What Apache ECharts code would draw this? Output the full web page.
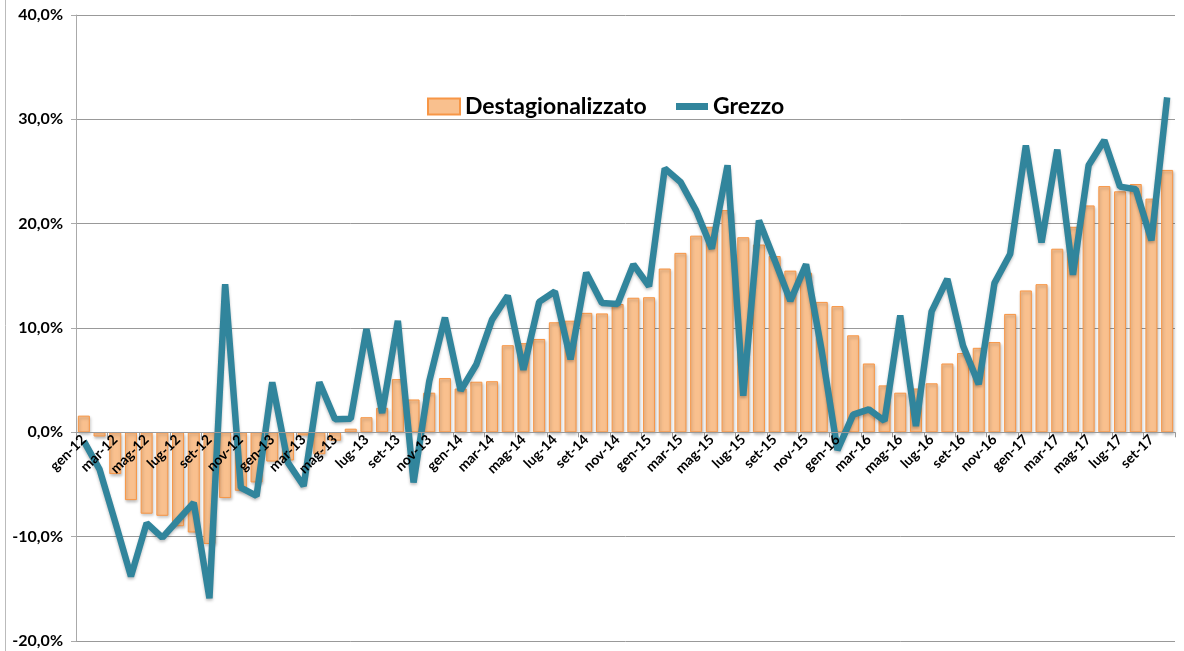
<!DOCTYPE html>
<html>
<head>
<meta charset="utf-8">
<script src="https://cdn.jsdelivr.net/npm/echarts@6/dist/echarts.min.js"></script>
<style>
  html, body { margin: 0; padding: 0; background: #fff; }
  #chart { width: 1184px; height: 651px; }
</style>
</head>
<body>
<div id="chart"></div>
<script>
// mesi da gen-12 a ott-17
var mesi = [
    'gen-12', 'feb-12', 'mar-12', 'apr-12', 'mag-12', 'giu-12', 'lug-12', 'ago-12', 'set-12', 'ott-12', 'nov-12', 'dic-12',
    'gen-13', 'feb-13', 'mar-13', 'apr-13', 'mag-13', 'giu-13', 'lug-13', 'ago-13', 'set-13', 'ott-13', 'nov-13', 'dic-13',
    'gen-14', 'feb-14', 'mar-14', 'apr-14', 'mag-14', 'giu-14', 'lug-14', 'ago-14', 'set-14', 'ott-14', 'nov-14', 'dic-14',
    'gen-15', 'feb-15', 'mar-15', 'apr-15', 'mag-15', 'giu-15', 'lug-15', 'ago-15', 'set-15', 'ott-15', 'nov-15', 'dic-15',
    'gen-16', 'feb-16', 'mar-16', 'apr-16', 'mag-16', 'giu-16', 'lug-16', 'ago-16', 'set-16', 'ott-16', 'nov-16', 'dic-16',
    'gen-17', 'feb-17', 'mar-17', 'apr-17', 'mag-17', 'giu-17', 'lug-17', 'ago-17', 'set-17', 'ott-17'
];

var destagionalizzato = [
    1.6, -0.4, -4.0, -6.5, -7.8, -8.0, -9.0, -9.6, -10.7, -6.3, -5.6, -4.8,
    -2.8, -2.7, -0.3, -2.1, -0.8, 0.35, 1.45, 2.35, 5.1, 3.15, 3.8, 5.2,
    4.2, 4.85, 4.9, 8.35, 8.55, 8.95, 10.55, 10.7, 11.45, 11.4, 12.3, 12.9,
    12.95, 15.7, 17.2, 18.85, 19.7, 21.3, 18.7, 18.0, 16.9, 15.5, 15.3, 12.5,
    12.1, 9.3, 6.6, 4.5, 3.8, 4.2, 4.7, 6.6, 7.6, 8.1, 8.65, 11.35,
    13.6, 14.2, 17.6, 19.7, 21.75, 23.6, 23.1, 23.8, 22.4, 25.15
];

var grezzo = [
    -0.85, -3.55, -8.6, -13.8, -8.7, -10.1, -8.4, -6.75, -15.9, 14.2, -5.3, -6.1,
    4.8, -2.9, -5.15, 4.8, 1.25, 1.3, 9.9, 1.85, 10.7, -4.8, 4.9, 11.0,
    4.0, 6.5, 10.8, 13.1, 6.0, 12.5, 13.5, 7.0, 15.3, 12.4, 12.3, 16.1,
    14.0, 25.3, 24.0, 21.25, 17.6, 25.6, 3.5, 20.3, 16.5, 12.6, 16.1, 7.8,
    -1.7, 1.7, 2.2, 1.1, 11.2, 0.6, 11.6, 14.7, 8.3, 4.6, 14.3, 17.1,
    27.5, 18.2, 27.1, 15.1, 25.6, 28.0, 23.55, 23.3, 18.4, 32.1
];

var FONT = 'Lato';
var legendText = {fontFamily: FONT, fontSize: 23, fontWeight: 'bold', color: '#000'};

var chart = echarts.init(document.getElementById('chart'));
var option = {
    backgroundColor: '#fff',
    animation: false,
    textStyle: {fontFamily: FONT},
    grid: {left: 76, right: 9, top: 15, bottom: 10, containLabel: false, outerBoundsMode: 'none'},
    legend: [
        {
            left: 422,
            top: 90,
            itemWidth: 32,
            itemHeight: 16,
            textStyle: legendText,
            data: [{name: 'Destagionalizzato', icon: 'rect'}]
        },
        {
            left: 671,
            top: 90,
            itemWidth: 32,
            itemHeight: 7,
            textStyle: legendText,
            data: [{name: 'Grezzo', icon: 'rect'}]
        }
    ],
    xAxis: [
        {
            type: 'category',
            data: mesi,
            z: 10,
            // asse spostato sullo zero (-20..40 => zero a 1/3 dal basso)
            axisLine: {onZero: false, lineStyle: {color: '#999', width: 1}},
            offset: -208.7,
            axisTick: {show: true, interval: 1, length: 5, lineStyle: {color: '#999'}},
            axisLabel: {
                interval: 1,
                rotate: 45,
                margin: 5,
                fontFamily: FONT,
                fontSize: 14,
                fontWeight: 'bold',
                color: '#000'
            },
            splitLine: {show: false}
        }
    ],
    yAxis: [
        {
            type: 'value',
            min: -20,
            max: 40,
            interval: 10,
            axisLine: {show: true, lineStyle: {color: '#aaa', width: 1}},
            axisTick: {show: true, length: 5, lineStyle: {color: '#aaa'}},
            axisLabel: {
                margin: 13,
                fontFamily: FONT,
                fontSize: 16,
                fontWeight: 'bold',
                color: '#000',
                formatter: function (v) {
                    return v.toFixed(1).replace('.', ',') + '%';
                }
            },
            splitLine: {show: true, lineStyle: {color: '#999', width: 1}}
        }
    ],
    series: [
        {
            name: 'Destagionalizzato',
            type: 'bar',
            barWidth: 12,
            data: destagionalizzato,
            itemStyle: {
                color: '#F9C08E',
                borderColor: '#F79646',
                borderWidth: 1,
                shadowBlur: 3,
                shadowColor: 'rgba(0,0,0,0.25)',
                shadowOffsetX: 1,
                shadowOffsetY: 2
            }
        },
        {
            name: 'Grezzo',
            type: 'line',
            z: 3,
            data: grezzo,
            showSymbol: false,
            symbol: 'none',
            lineStyle: {
                color: '#31859C',
                width: 6.5,
                shadowBlur: 3,
                shadowColor: 'rgba(0,0,0,0.25)',
                shadowOffsetY: 2
            },
            itemStyle: {color: '#31859C'}
        }
    ],
    graphic: [
        {
            type: 'line',
            shape: {x1: 5.5, y1: 0, x2: 5.5, y2: 651},
            style: {stroke: '#bbb', lineWidth: 1}
        }
    ]
};
chart.setOption(option);
</script>
</body>
</html>
